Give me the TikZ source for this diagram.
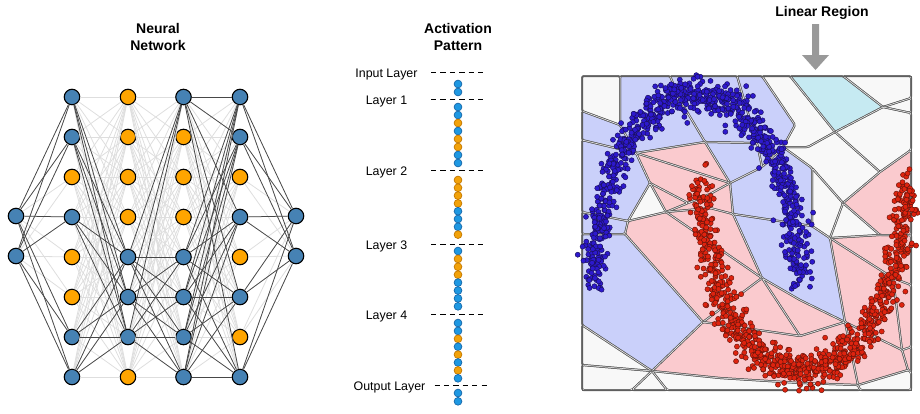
\documentclass[tikz,border=0pt]{standalone}
\usepackage{fontspec}
\setmainfont{Liberation Sans}
\definecolor{nb}{RGB}{70,130,180}
\definecolor{no}{RGB}{255,165,0}
\definecolor{pb}{RGB}{30,152,226}
\definecolor{pbd}{RGB}{25,105,170}
\definecolor{po}{RGB}{242,162,10}
\definecolor{pod}{RGB}{195,120,0}
\definecolor{cb}{RGB}{202,208,250}
\definecolor{cr}{RGB}{250,202,206}
\definecolor{cw}{RGB}{248,248,248}
\definecolor{cc}{RGB}{198,234,242}
\definecolor{bord}{RGB}{95,95,95}
\definecolor{sb}{RGB}{45,25,205}
\definecolor{sbd}{RGB}{25,15,90}
\definecolor{sr}{RGB}{222,35,15}
\definecolor{srd}{RGB}{100,20,10}
\newcommand\cellfill[2]{\fill[#1,rounded corners=1.5pt] #2 -- cycle;}
\newcommand\cellline[2]{\path[cellborder] #2 -- cycle;}
\begin{document}
\begin{tikzpicture}[x=1pt,y=-1pt,
  nn/.style={circle,draw=black,line width=1.1pt,minimum size=15.5pt,inner sep=0pt},
  pd/.style={circle,line width=0.7pt,minimum size=7.8pt,inner sep=0pt},
  pblue/.style={pd,fill=pb,draw=pbd},
  porange/.style={pd,fill=po,draw=pod},
  lightedge/.style={draw=black!13,line width=0.8pt},
  darkedge/.style={draw=black!72,line width=0.75pt},
  title/.style={font=\bfseries\fontsize{14}{16}\selectfont,anchor=base},
  lbl/.style={font=\fontsize{12.4}{14}\selectfont,anchor=base},
  dashln/.style={line width=0.95pt,dash pattern=on 5.3pt off 4.1pt},
  cellborder/.style={draw=bord,double=white,double distance=0.5pt,line width=0.75pt,rounded corners=1.5pt,line join=round}]
\useasboundingbox (0,0) rectangle (920,413);
% ---------- titles
\node[title] (t1) at (158,33.3) {Neural};
\node[title] (t2) at (158,50) {Network};
\node[title] (t3) at (458,33.3) {Activation};
\node[title] (t4) at (458,50) {Pattern};
\node[title] (t5) at (822,16.5) {Linear Region};
\fill[black!40] (812,24) -- (819,24) -- (819,55) -- (829,55) -- (815.5,70) -- (802,55) -- (812,55) -- cycle;
% ---------- neural network nodes
\foreach \r in {1,2} \node[nn,fill=nb] (a0-\r) at (16,{176+40*\r}) {};
\foreach \r/\c in {1/nb,2/nb,3/no,4/nb,5/no,6/no,7/nb,8/nb} \node[nn,fill=\c] (a1-\r) at (72,{57+40*\r}) {};
\foreach \r/\c in {1/no,2/no,3/no,4/no,5/nb,6/nb,7/nb,8/no} \node[nn,fill=\c] (a2-\r) at (128,{57+40*\r}) {};
\foreach \r/\c in {1/nb,2/no,3/no,4/no,5/nb,6/nb,7/nb,8/nb} \node[nn,fill=\c] (a3-\r) at (183.5,{57+40*\r}) {};
\foreach \r/\c in {1/nb,2/nb,3/no,4/nb,5/no,6/nb,7/no,8/nb} \node[nn,fill=\c] (a4-\r) at (240,{57+40*\r}) {};
\foreach \r in {1,2} \node[nn,fill=nb] (a5-\r) at (296,{176+40*\r}) {};
% light edges
\foreach \i in {1,2} \foreach \j in {1,...,8} {\draw[lightedge] (a0-\i) -- (a1-\j); \draw[lightedge] (a4-\j) -- (a5-\i);}
\foreach \i in {1,...,8} \foreach \j in {1,...,8} {\draw[lightedge] (a1-\i) -- (a2-\j); \draw[lightedge] (a2-\i) -- (a3-\j); \draw[lightedge] (a3-\i) -- (a4-\j);}
% dark edges
\foreach \i in {1,2} \foreach \j in {1,2,4,7,8} \draw[darkedge] (a0-\i) -- (a1-\j);
\foreach \i in {1,2,4,7,8} \foreach \j in {5,6,7} \draw[darkedge] (a1-\i) -- (a2-\j);
\foreach \i in {5,6,7} \foreach \j in {1,5,6,7,8} \draw[darkedge] (a2-\i) -- (a3-\j);
\foreach \i in {1,5,6,7,8} \foreach \j in {1,2,4,6,8} \draw[darkedge] (a3-\i) -- (a4-\j);
\foreach \i in {1,2,4,6,8} \foreach \j in {1,2} \draw[darkedge] (a4-\i) -- (a5-\j);
% ---------- activation pattern
\foreach \n/\y/\xl/\xa/\xb/\t in {0/72.3/386.5/431/483/Input Layer,1/99.5/386.5/431/483/Layer 1,2/170.7/386.5/431/483/Layer 2,3/244.3/386.5/431/483/Layer 3,4/314.3/386.5/431/483/Layer 4,5/385.3/389.5/434.5/486.5/Output Layer}{
  \node[lbl] (ll\n) at (\xl,\y+4.8) {\t};
  \coordinate (da\n) at (\xa,\y);
  \coordinate (db\n) at (\xb,\y);
  \draw[dashln] (da\n) -- (db\n);
}
\foreach \k/\s in {0/pblue,1/pblue} \node[\s] (q0-\k) at (458,{84+8*\k}) {};
\foreach \k/\s in {0/pblue,1/pblue,2/porange,3/pblue,4/porange,5/porange,6/pblue,7/pblue} \node[\s] (q1-\k) at (458,{107+8*\k}) {};
\foreach \k/\s in {0/porange,1/porange,2/porange,3/porange,4/pblue,5/pblue,6/pblue,7/porange} \node[\s] (q2-\k) at (458,{180+7.8*\k}) {};
\foreach \k/\s in {0/pblue,1/porange,2/porange,3/porange,4/pblue,5/pblue,6/pblue,7/pblue} \node[\s] (q3-\k) at (458,{251+7.9*\k}) {};
\foreach \k/\s in {0/pblue,1/pblue,2/porange,3/pblue,4/porange,5/pblue,6/porange,7/pblue} \node[\s] (q4-\k) at (458,{323+7.9*\k}) {};
\foreach \k/\s in {0/pblue,1/pblue} \node[\s] (q5-\k) at (458,{393+8.3*\k}) {};
% ---------- linear regions
\def\allcells{%
\C{cw}{(582,76)--(620,76)--(620,125)--(582,111)}%
\C{cb}{(582,111)--(620,125)--(636,153)--(582,140)}%
\C{cb}{(620,76)--(670,76)--(680,100)--(705,142)--(636,153)--(620,125)}%
\C{cb}{(670,76)--(737,76)--(750,120)--(757,143)--(705,142)--(680,100)}%
\C{cb}{(737,76)--(762,76)--(795,125)--(783,147)--(762,167)--(757,143)--(750,120)}%
\C{cw}{(762,76)--(790,76)--(835,132)--(808,147)--(783,147)--(795,125)}%
\C{cc}{(790,76)--(843,76)--(883,107)--(835,132)}%
\C{cw}{(843,76)--(911,76)--(911,98)--(883,107)}%
\C{cw}{(883,107)--(911,98)--(911,113)}%
\C{cw}{(883,107)--(911,113)--(911,150)--(880,172)--(835,132)}%
\C{cw}{(783,147)--(808,147)--(835,132)--(880,172)--(843,203)--(812,168)}%
\C{cr}{(843,203)--(880,172)--(911,150)--(911,235)--(880,235)}%
\C{cb}{(730,183)--(762,167)--(783,147)--(812,168)--(812,226)--(733,214)}%
\C{cw}{(812,168)--(843,203)--(830,238)--(812,226)}%
\C{cw}{(843,203)--(880,235)--(830,238)}%
\C{cr}{(830,238)--(880,235)--(911,235)--(911,285)--(893,278)}%
\C{cr}{(830,238)--(893,278)--(902,350)--(845,322)}%
\C{cr}{(893,278)--(911,285)--(911,347)--(902,350)}%
\C{cb}{(733,214)--(812,226)--(830,238)--(845,322)--(800,300)--(762,278)}%
\C{cb}{(705,142)--(757,143)--(762,167)--(730,183)}%
\C{cr}{(636,153)--(705,142)--(730,183)}%
\C{cr}{(636,153)--(730,183)--(710,194)--(688,203)--(650,183)}%
\C{cr}{(688,203)--(710,194)--(730,183)--(733,214)--(710,208)--(666,212)}%
\C{cr}{(650,183)--(688,203)--(666,212)}%
\C{cr}{(666,212)--(710,208)--(733,214)--(762,278)}%
\C{cr}{(628,221)--(666,212)--(762,278)--(703,322)--(625,234)}%
\C{cr}{(703,322)--(762,278)--(800,336)}%
\C{cr}{(762,278)--(800,300)--(845,322)--(800,336)}%
\C{cr}{(652,371)--(703,322)--(800,336)--(845,322)--(858,385)--(800,383)--(720,378)}%
\C{cr}{(845,322)--(902,350)--(908,370)--(858,385)}%
\C{cr}{(902,350)--(911,347)--(911,372)--(908,370)}%
\C{cw}{(652,371)--(720,378)--(800,383)--(858,385)--(860,390)--(667,390)}%
\C{cw}{(858,385)--(908,370)--(911,372)--(911,390)--(860,390)}%
\C{cb}{(582,234)--(625,234)--(703,322)--(652,371)--(582,325)}%
\C{cw}{(582,325)--(652,371)--(582,365)}%
\C{cw}{(582,365)--(652,371)--(632,390)--(582,390)}%
\C{cw}{(652,371)--(667,390)--(632,390)}%
\C{cb}{(582,212)--(628,221)--(625,234)--(582,234)}%
\C{cb}{(582,140)--(636,153)--(650,183)--(628,221)--(582,212)}%
\C{cw}{(650,183)--(666,212)--(628,221)}%
}
\let\C\cellfill
\allcells
\let\C\cellline
\allcells
\draw[bord,line width=0.9pt] (582,76) rectangle (911,390);
% ---------- two moons
\pgfmathsetseed{11}
\foreach \i in {0,...,949}{
  \pgfmathsetmacro\ang{\i*0.189673}
  \pgfmathsetmacro\nx{(rnd+rnd+rnd+rnd-2)*1.732*6.0}
  \pgfmathsetmacro\ny{(rnd+rnd+rnd+rnd-2)*1.732*9.0}
  \filldraw[fill=sb,draw=sbd,line width=0.45pt] ({697+103*cos(\ang)+\nx},{285-190*sin(\ang)+\ny}) circle (2.55);
}
\foreach \i in {0,...,949}{
  \pgfmathsetmacro\ang{\i*0.189673}
  \pgfmathsetmacro\nx{(rnd+rnd+rnd+rnd-2)*1.732*6.0}
  \pgfmathsetmacro\ny{(rnd+rnd+rnd+rnd-2)*1.732*9.0}
  \filldraw[fill=sr,draw=srd,line width=0.45pt] ({803-103*cos(\ang)+\nx},{180+190*sin(\ang)+\ny}) circle (2.55);
}
\end{tikzpicture}
\end{document}
